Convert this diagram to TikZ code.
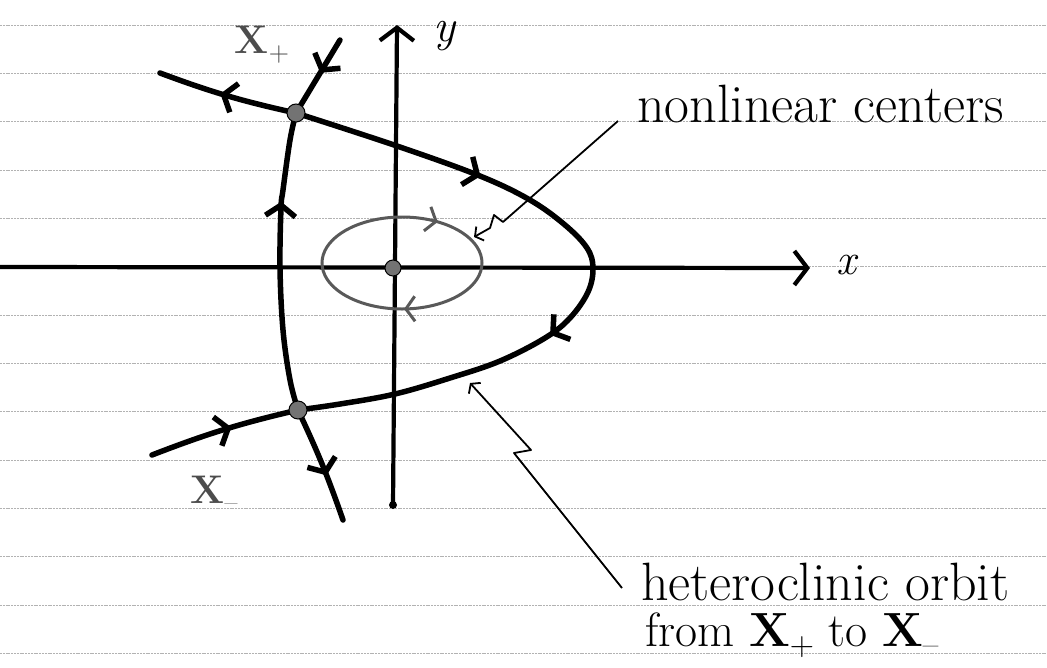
\documentclass[tikz,border=0pt]{standalone}
\usepackage{fontspec}
\setmainfont{Latin Modern Roman}
\usetikzlibrary{arrows.meta,decorations.markings}
\newcommand{\bX}[1]{{\bfseries X}\raisebox{-0.2em}{\scalebox{0.7}{#1}}}
\begin{document}
\begin{tikzpicture}[x=1pt,y=-1pt,
  ruled/.style={black!30,line width=0.7pt,dash pattern=on 2pt off 0.8pt},
  heavy/.style={line width=5.5pt,line cap=round,line join=round},
  axisline/.style={line width=4.2pt,line cap=round},
  orbit/.style={black!65,line width=3pt},
  pointer/.style={line width=1.8pt,line join=round},
  hb/.tip={Straight Barb[length=11pt,width=30pt]},
  sb/.tip={Straight Barb[length=9pt,width=25pt]},
  mid/.style={postaction={decorate,decoration={markings,mark=at position #1 with {\arrow{hb}}}}},
  smid/.style={postaction={decorate,decoration={markings,mark=at position #1 with {\arrow{sb}}}}},
  dotfill/.style={fill=black!55,draw=black,line width=1pt},
  hand/.style={font=\fontsize{54}{60}\selectfont,inner sep=0pt,anchor=base west},
  lbl/.style={inner sep=0pt}
]
\useasboundingbox (0,0) rectangle (1047,667);
\fill[white] (0,0) rectangle (1047,667);
% ruled paper
\foreach \k in {0,...,13}
  \draw[ruled] (0,{25+48.33*\k}) -- (1047,{25+48.33*\k});

\coordinate (Xp) at (296,113);
\coordinate (Xm) at (298,410);
\coordinate (O) at (393,268);

% axes
\coordinate (xs) at (0,267);
\coordinate (xe) at (810,268);
\coordinate (ys) at (393,505);
\coordinate (ye) at (397,25);
\draw[axisline,-{Straight Barb[length=13pt,width=34pt]}] (xs) -- (xe);
\draw[axisline,-{Straight Barb[length=13pt,width=34pt]}] (ys) -- (ye);
\fill (ys) circle (4pt);
\node[lbl,font=\fontsize{44}{44}\selectfont\itshape] (xl) at (846,265) {x};
\node[lbl,font=\fontsize{46}{46}\selectfont\itshape] (yl) at (444,36) {y};

% nonlinear center orbit
\draw[orbit,smid=0.235,smid=0.83] plot[smooth cycle,domain=0:355,samples=72]
  ({402+80*cos(\x)},{263+46*sin(\x)});

% heteroclinic orbit
\draw[heavy,mid=0.281,mid=0.618] plot[smooth,tension=0.6] coordinates {
  (296,113) (397,146) (480,176) (530,200) (565,225) (587,248) (593,268)
  (588,292) (570,318) (545,338) (500,361) (450,378) (395,394) (340,404) (298,410)};

% X- to X+ connection
\draw[heavy,mid=0.70] plot[smooth,tension=0.6] coordinates {
  (298,410) (290,380) (283,330) (280,268) (281,208) (283,190) (290,140) (296,113)};

% other manifolds
\coordinate (tp) at (340,40);
\coordinate (lp) at (160,73);
\coordinate (lm) at (152,455);
\coordinate (bm) at (343,520);
\draw[heavy,mid=0.45] (tp) -- (Xp);
\draw[heavy,mid=0.55] (Xp) to[bend left=4] (lp);
\draw[heavy,mid=0.55] (lm) to[bend left=4] (Xm);
\draw[heavy,mid=0.6] (Xm) to[bend left=3] (bm);

% fixed points
\draw[dotfill] (Xp) circle (9pt);
\draw[dotfill] (Xm) circle (9pt);
\draw[dotfill] (O) circle (8pt);

% saddle labels
\node[lbl,black!70,font=\fontsize{40}{40}\selectfont] (Lp) at (262,45) {\bX{+}};
\node[lbl,black!70,font=\fontsize{40}{40}\selectfont] (Lm) at (214,494) {\bX{--}};

% annotations
\node[hand] (nc) at (637,122) {nonlinear centers};
\coordinate (nc0) at (618,121);
\draw[pointer,-{Straight Barb[length=6pt,width=16pt]}]
  (nc0) -- (503,222) -- (494,215) -- (490,228) -- (474,237);

\node[hand,font=\fontsize{54}{60}\selectfont] (ho) at (641,600) {heteroclinic orbit};
\node[hand,font=\fontsize{48}{54}\selectfont] (fr) at (645,646) {from \bX{+} to \bX{--}};
\coordinate (ho0) at (622,588);
\draw[pointer,-{Straight Barb[length=6pt,width=16pt]}]
  (ho0) -- (514,453) -- (531,450) -- (470,383);
\end{tikzpicture}
\end{document}
